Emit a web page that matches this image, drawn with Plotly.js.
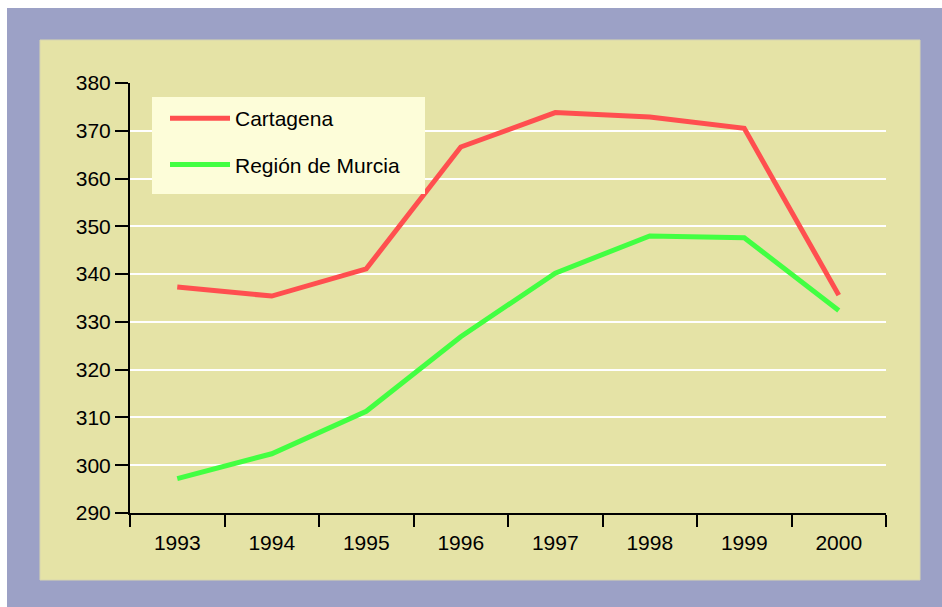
<!DOCTYPE html>
<html>
<head>
<meta charset="utf-8">
<script src="https://cdn.plot.ly/plotly-3.0.1.min.js"></script>
<style>
  html, body { margin: 0; padding: 0; background: #ffffff; }
  #chart { width: 942px; height: 607px; }
</style>
</head>
<body>
<div id="chart"></div>
<script>
const years = ['1993', '1994', '1995', '1996', '1997', '1998', '1999', '2000'];
const cartagena = [337.3, 335.4, 341.1, 366.6, 373.8, 372.9, 370.5, 335.6];
const murcia = [297.2, 302.4, 311.3, 326.9, 340.2, 348.0, 347.6, 332.4];
const seriesNames = ['Cartagena', 'Región de Murcia'];
const yTicks = [290, 300, 310, 320, 330, 340, 350, 360, 370, 380];

// pixel geometry helpers (plot area: x 130..886, y 83..513)
const W = 942, H = 607, L = 130, R = 886, T = 83, B = 513;
const px = v => (v - L) / (R - L);
const py = v => (B - v) / (B - T);

const traces = [
  {
    x: years, y: cartagena, name: seriesNames[0], type: 'scatter', mode: 'lines',
    line: { color: '#ff4f4f', width: 5 }, legendgroup: 'a'
  },
  {
    x: years, y: murcia, name: seriesNames[1], type: 'scatter', mode: 'lines',
    line: { color: '#42ff42', width: 5 }, legendgroup: 'b'
  }
];

const layout = {
  width: W, height: H,
  margin: { l: L, r: W - R, t: T, b: H - B, pad: 0 },
  paper_bgcolor: '#ffffff',
  plot_bgcolor: 'rgba(0,0,0,0)',
  font: { family: 'Liberation Sans, Arial, sans-serif', size: 21, color: '#000000' },
  showlegend: true,
  legend: {
    x: px(165), y: py(98), xanchor: 'left', yanchor: 'top',
    bgcolor: 'rgba(0,0,0,0)', borderwidth: 0,
    font: { size: 21, color: '#000000' },
    tracegroupgap: 16, traceorder: 'grouped',
    itemwidth: 60
  },
  xaxis: {
    type: 'category', categoryorder: 'array', categoryarray: years,
    range: [-0.5, 7.5], tickson: 'boundaries',
    ticks: 'outside', ticklen: 12, tickwidth: 2, tickcolor: '#000000',
    showline: true, linecolor: '#000000', linewidth: 2,
    showgrid: false, zeroline: false, fixedrange: true,
    ticklabelstandoff: 10,
    tickfont: { size: 21 }
  },
  yaxis: {
    range: [290, 380], tickvals: yTicks, ticktext: yTicks.map(String),
    ticks: 'outside', ticklen: 13, tickwidth: 2, tickcolor: '#000000',
    showline: true, linecolor: '#000000', linewidth: 2,
    showgrid: true, gridcolor: '#ffffff', gridwidth: 2,
    zeroline: false, fixedrange: true,
    tickfont: { size: 21 }
  },
  shapes: [
    {
      type: 'rect', xref: 'paper', yref: 'paper', layer: 'below',
      x0: px(7), x1: px(942), y0: py(8), y1: py(607),
      fillcolor: '#9ca1c6', line: { width: 0 }
    },
    {
      type: 'rect', xref: 'paper', yref: 'paper', layer: 'below',
      x0: px(40), x1: px(920), y0: py(40), y1: py(580),
      fillcolor: '#e5e3a6', line: { width: 1, color: '#d8d6b0' }
    },
    {
      type: 'rect', xref: 'paper', yref: 'paper', layer: 'above',
      x0: px(152), x1: px(425), y0: py(97), y1: py(194),
      fillcolor: '#fdfdd9', line: { width: 0 }
    }
  ]
};

Plotly.newPlot('chart', traces, layout, { displayModeBar: false, staticPlot: true });
</script>
</body>
</html>
